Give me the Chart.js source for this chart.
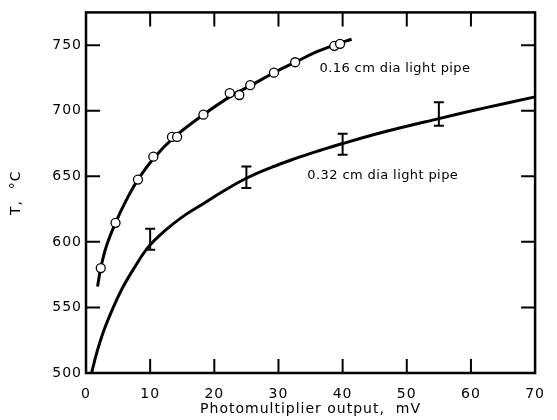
<!DOCTYPE html>
<html>
<head>
<meta charset="utf-8">
<script src="https://cdn.jsdelivr.net/npm/chart.js@4/dist/chart.umd.min.js"></script>
<style>
  html, body { margin: 0; padding: 0; background: #fff; }
  canvas { display: block; }
</style>
</head>
<body>
<canvas id="chart" width="557" height="420"></canvas>
<script>
// --- DATA ---
// 0.16 cm pipe: measured points (circles)
const smallPipeX = [2.3, 4.6, 8.1, 10.5, 13.4, 14.2, 18.3, 22.4, 23.9, 25.6, 29.3, 32.6, 38.7, 39.6];
const smallPipeT = [580, 614.5, 647.5, 665, 680, 680, 697, 713.5, 712, 719.5, 729, 737, 749.5, 751];
// 0.16 cm pipe: drawn curve
const smallFitX = [1.8, 2.3, 3.2, 4.6, 6.3, 8.1, 10.6, 13.8, 18.3, 23, 25.6, 29.3, 32.6, 36, 39.2, 41.4];
const smallFitT = [566, 580, 597, 614.5, 632, 647.5, 664, 680, 697, 712.5, 719, 729, 737, 745, 751, 754.5];
// 0.32 cm pipe: drawn curve
const bigFitX = [0.87, 1.6, 2.6, 4.2, 5.7, 7.5, 9.7, 12.3, 15.3, 18.4, 21, 25, 29, 32.6, 36, 40, 47, 55, 62, 70];
const bigFitT = [500, 514, 530, 549.5, 565, 580, 596, 608.5, 620, 629.5, 637.5, 648.5, 657, 663.5, 669, 675, 684.5, 694, 702, 710.6];
// 0.32 cm pipe: error bars
const errX = [10, 25, 40, 55];
const errLow = [594, 641, 666.5, 688.5];
const errHigh = [610, 657.5, 682.5, 706.5];

const xTicks = [0, 10, 20, 30, 40, 50, 60, 70];
const yTicks = [500, 550, 600, 650, 700, 750];

const labels = [
    { text: '0.16 cm dia light pipe', x: 36.4, y: 732 },
    { text: '0.32 cm dia light pipe', x: 34.5, y: 650.5 }
];

const FONT = '"DejaVu Sans", sans-serif';
Chart.defaults.color = '#000';
Chart.defaults.font.family = FONT;

const toPoints = (xs, ys) => xs.map((x, i) => ({ x: x, y: ys[i] }));

// the original lettering is wide, so open the text up a little
const spacingPlugin = {
    id: 'spacing',
    beforeDraw(chart) { chart.ctx.letterSpacing = '1px'; }
};

// frame plus inward tick marks on all four sides
const framePlugin = {
    id: 'frame',
    afterDatasetsDraw(chart) {
        const { ctx, chartArea: a, scales: { x, y } } = chart;
        ctx.save();
        ctx.strokeStyle = '#000';
        ctx.lineWidth = 2.5;
        ctx.strokeRect(a.left, a.top, a.right - a.left, a.bottom - a.top);
        ctx.lineWidth = 2;
        ctx.beginPath();
        xTicks.slice(1, -1).forEach(v => {
            const px = x.getPixelForValue(v);
            ctx.moveTo(px, a.bottom); ctx.lineTo(px, a.bottom - 14);
            ctx.moveTo(px, a.top); ctx.lineTo(px, a.top + 14);
        });
        yTicks.slice(1).forEach(v => {
            const py = y.getPixelForValue(v);
            ctx.moveTo(a.left, py); ctx.lineTo(a.left + 14, py);
            ctx.moveTo(a.right, py); ctx.lineTo(a.right - 14, py);
        });
        ctx.stroke();
        ctx.restore();
    }
};

const errorBarPlugin = {
    id: 'errorBars',
    afterDatasetsDraw(chart) {
        const { ctx, scales: { x, y } } = chart;
        ctx.save();
        ctx.strokeStyle = '#000';
        ctx.lineWidth = 2;
        ctx.beginPath();
        errX.forEach((v, i) => {
            const px = x.getPixelForValue(v);
            const lo = y.getPixelForValue(errLow[i]);
            const hi = y.getPixelForValue(errHigh[i]);
            ctx.moveTo(px, lo); ctx.lineTo(px, hi);
            ctx.moveTo(px - 5, lo); ctx.lineTo(px + 5, lo);
            ctx.moveTo(px - 5, hi); ctx.lineTo(px + 5, hi);
        });
        ctx.stroke();
        ctx.restore();
    }
};

const labelPlugin = {
    id: 'curveLabels',
    afterDatasetsDraw(chart) {
        const { ctx, scales: { x, y } } = chart;
        ctx.save();
        ctx.fillStyle = '#000';
        ctx.font = '13px ' + FONT;
        ctx.letterSpacing = '0.4px';
        ctx.textAlign = 'left';
        ctx.textBaseline = 'middle';
        labels.forEach(l => ctx.fillText(l.text, x.getPixelForValue(l.x), y.getPixelForValue(l.y)));
        ctx.restore();
    }
};

new Chart(document.getElementById('chart'), {
    type: 'scatter',
    data: {
        datasets: [
            {
                label: '0.16 cm points',
                data: toPoints(smallPipeX, smallPipeT),
                showLine: false,
                pointRadius: 4.5,
                pointBackgroundColor: '#fff',
                pointBorderColor: '#000',
                pointBorderWidth: 1.3,
                order: 0
            },
            {
                label: '0.16 cm curve',
                data: toPoints(smallFitX, smallFitT),
                showLine: true,
                borderColor: '#000',
                borderWidth: 3,
                pointRadius: 0,
                tension: 0.4,
                order: 1
            },
            {
                label: '0.32 cm curve',
                data: toPoints(bigFitX, bigFitT),
                showLine: true,
                borderColor: '#000',
                borderWidth: 3,
                pointRadius: 0,
                tension: 0.4,
                order: 1
            }
        ]
    },
    options: {
        responsive: false,
        animation: false,
        devicePixelRatio: 1,
        layout: { padding: { top: 12, right: 11, bottom: 0, left: 0 } },
        plugins: {
            legend: { display: false },
            tooltip: { enabled: false }
        },
        scales: {
            x: {
                type: 'linear',
                min: 0,
                max: 70,
                afterBuildTicks: s => { s.ticks = xTicks.map(v => ({ value: v })); },
                afterFit: s => { s.height = 47; },
                grid: { display: false, drawTicks: false },
                border: { display: false },
                ticks: { padding: 13, font: { size: 14 } },
                title: {
                    display: true,
                    text: 'Photomultiplier output,  mV',
                    font: { size: 14 },
                    padding: { top: 0, bottom: 2 }
                }
            },
            y: {
                type: 'linear',
                min: 500,
                max: 775,
                afterBuildTicks: s => { s.ticks = yTicks.map(v => ({ value: v })); },
                afterFit: s => { s.width = 86; },
                grid: { display: false, drawTicks: false },
                border: { display: false },
                ticks: { padding: 4, font: { size: 14 } },
                title: {
                    display: true,
                    text: 'T,  °C',
                    font: { size: 14 },
                    padding: { top: 8, bottom: 0 }
                }
            }
        }
    },
    plugins: [spacingPlugin, framePlugin, errorBarPlugin, labelPlugin]
});
</script>
</body>
</html>
